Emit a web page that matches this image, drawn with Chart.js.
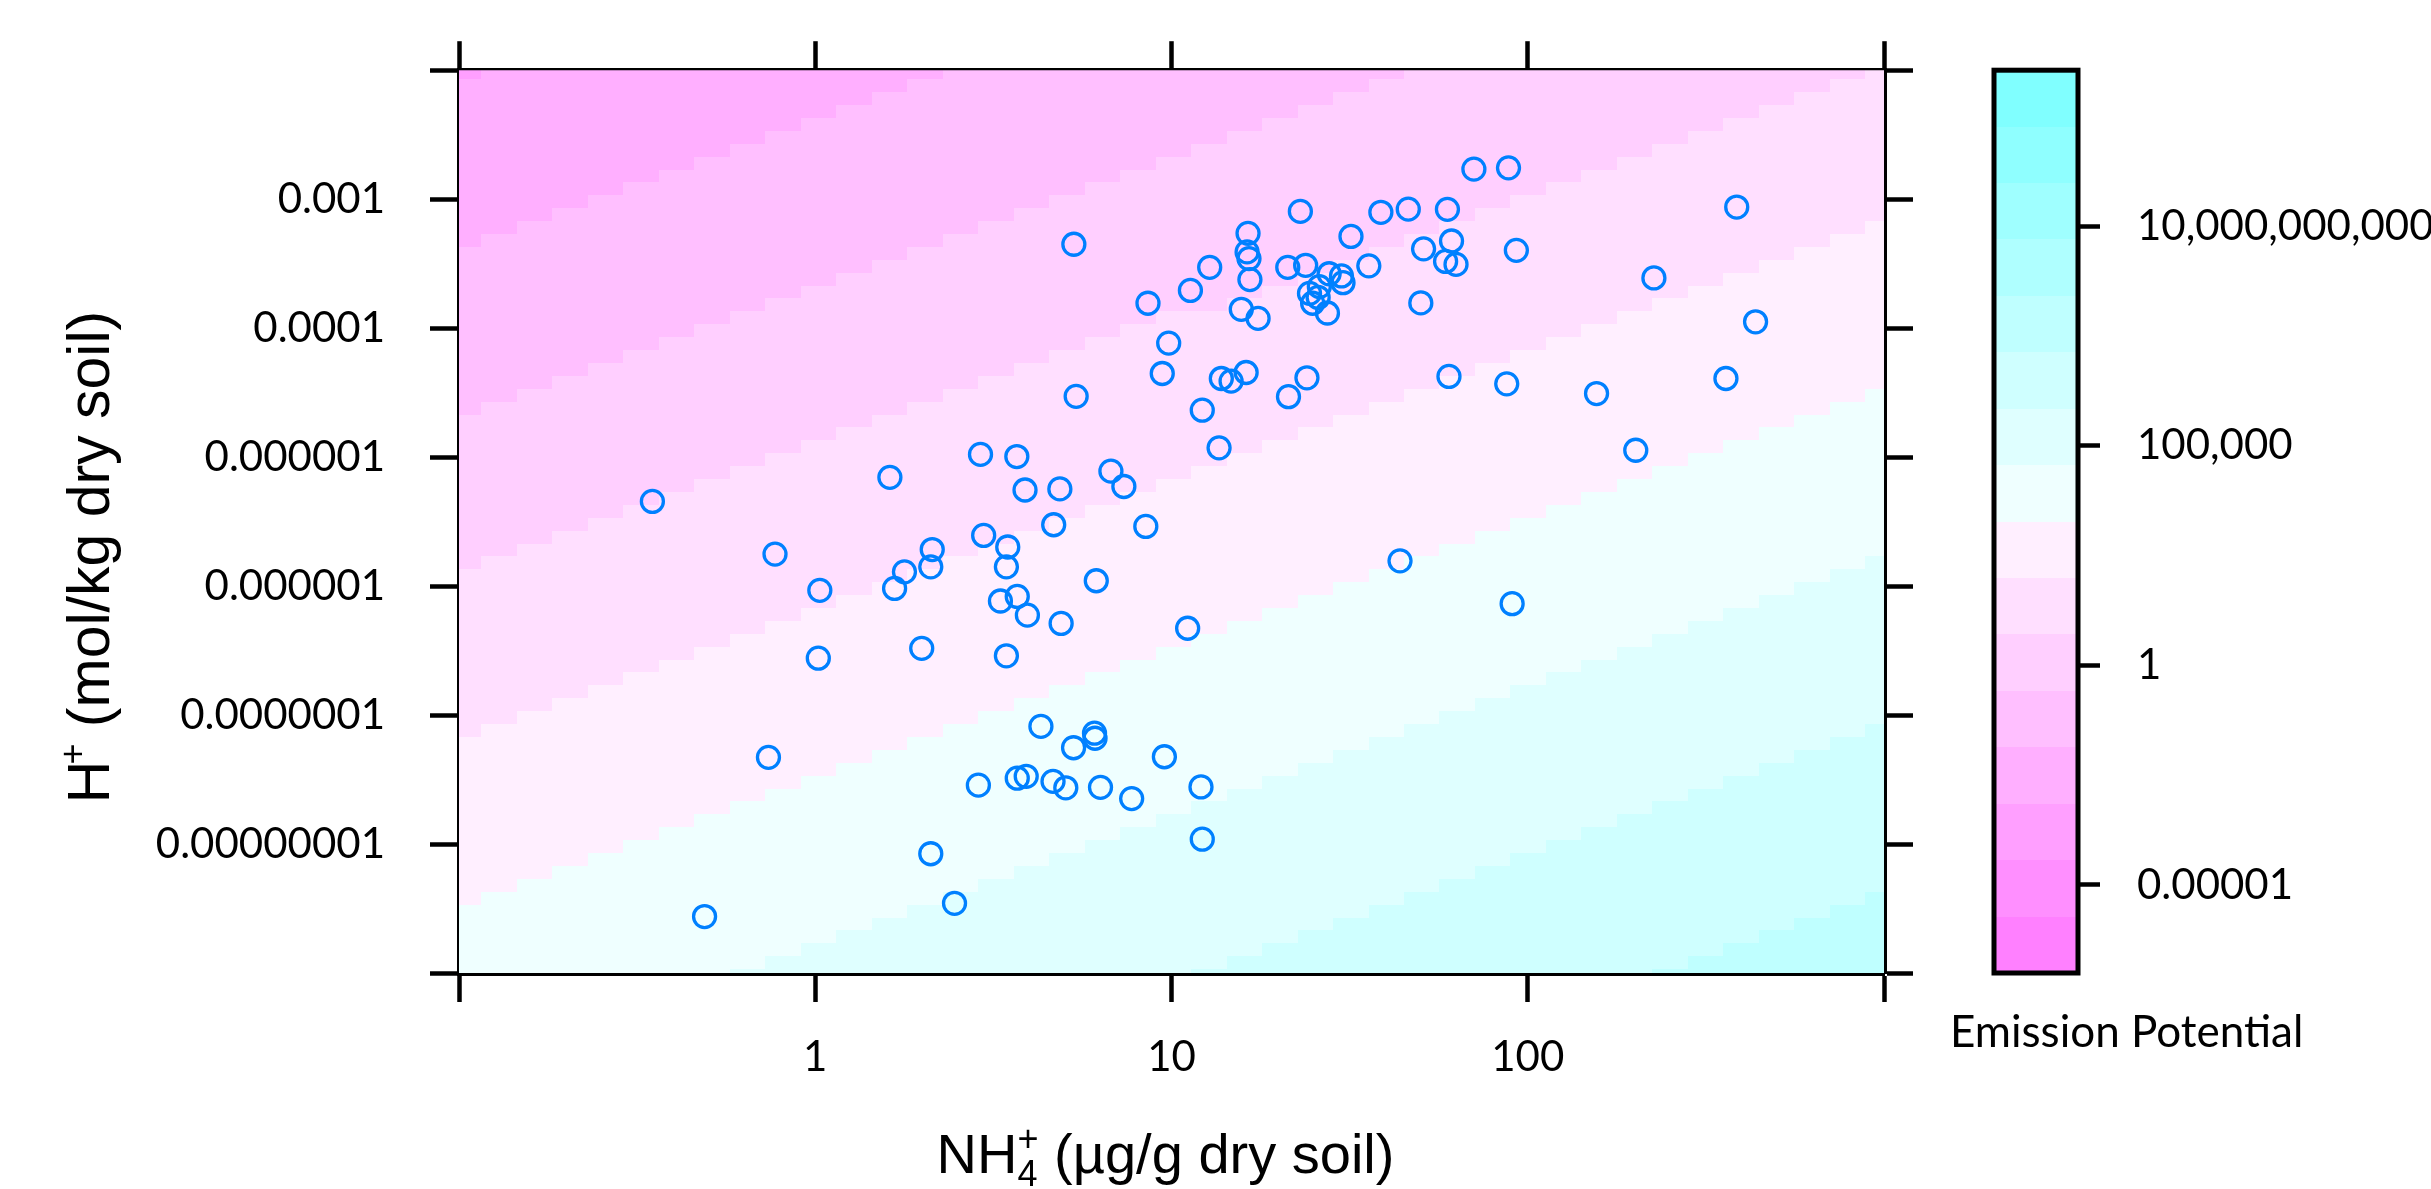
<!DOCTYPE html>
<html>
<head>
<meta charset="utf-8">
<script src="https://cdn.jsdelivr.net/npm/chart.js@4.4.1/dist/chart.umd.min.js"></script>
<style>
  html, body { margin: 0; padding: 0; background: #fff; }
  canvas { display: block; }
</style>
</head>
<body>
<canvas id="epChart" width="2431" height="1189"></canvas>
<script>
// NH4+ (ug/g dry soil) and H+ (mol/kg dry soil) for each sampled soil
const nh4 = [
  70.6, 88.3, 23.0, 38.7, 46.2, 59.5, 386, 16.4, 31.9, 51.0,
  61.1, 92.9, 12.8, 16.3, 16.5, 21.2, 23.8, 27.7, 30.0, 35.8,
  58.8, 62.9, 11.3, 8.59, 16.6, 24.4, 26.0, 25.8, 24.9, 27.4,
  30.3, 226, 15.7, 17.5, 50.1, 436, 9.82, 9.42, 13.8, 14.7,
  16.2, 24.0, 21.3, 60.1, 87.3, 156, 360, 12.2, 13.6, 201,
  5.32, 5.40, 6.76, 7.35, 0.349, 0.771, 1.03, 1.02, 0.739, 0.489,
  1.62, 2.91, 3.68, 3.88, 4.86, 4.67, 8.47, 2.97, 3.47, 2.13,
  2.11, 3.44, 1.78, 1.67, 6.15, 3.31, 3.69, 3.94, 4.90, 11.1,
  1.99, 3.44, 4.30, 6.08, 6.10, 5.31, 9.55, 2.87, 3.69, 3.91,
  4.65, 5.05, 6.32, 7.73, 2.11, 2.46, 43.8, 90.4, 12.1, 12.2
];
const hplus = [
  1.71e-3, 1.75e-3, 8.04e-4, 7.91e-4, 8.37e-4, 8.34e-4, 8.69e-4, 5.43e-4, 5.14e-4, 4.12e-4,
  4.74e-4, 4.01e-4, 2.96e-4, 3.90e-4, 3.46e-4, 2.96e-4, 3.07e-4, 2.64e-4, 2.54e-4, 3.04e-4,
  3.29e-4, 3.12e-4, 1.96e-4, 1.56e-4, 2.38e-4, 1.86e-4, 2.10e-4, 1.73e-4, 1.56e-4, 1.31e-4,
  2.25e-4, 2.45e-4, 1.40e-4, 1.19e-4, 1.57e-4, 1.12e-4, 7.66e-5, 4.45e-5, 4.07e-5, 3.88e-5,
  4.53e-5, 4.12e-5, 2.94e-5, 4.22e-5, 3.70e-5, 3.11e-5, 4.07e-5, 2.31e-5, 1.18e-5, 1.13e-5,
  4.47e-4, 2.96e-5, 7.78e-6, 5.92e-6, 4.53e-6, 1.77e-6, 9.27e-7, 2.76e-7, 4.70e-8, 2.74e-9,
  6.97e-6, 1.05e-5, 1.01e-5, 5.56e-6, 5.67e-6, 2.99e-6, 2.90e-6, 2.47e-6, 2.01e-6, 1.92e-6,
  1.41e-6, 1.41e-6, 1.29e-6, 9.59e-7, 1.10e-6, 7.66e-7, 8.31e-7, 5.95e-7, 5.13e-7, 4.71e-7,
  3.29e-7, 2.88e-7, 8.17e-8, 7.23e-8, 6.61e-8, 5.58e-8, 4.75e-8, 2.86e-8, 3.24e-8, 3.35e-8,
  3.06e-8, 2.73e-8, 2.75e-8, 2.25e-8, 8.41e-9, 3.47e-9, 1.57e-6, 7.30e-7, 2.77e-8, 1.09e-8
];

const xTickValues = [0.1, 1, 10, 100, 1000];
const xTickLabels = ['', '1', '10', '100', ''];
const yTickValues = [1e-9, 1e-8, 1e-7, 1e-6, 1e-5, 1e-4, 1e-3, 1e-2];
const yTickLabels = ['', '0.00000001', '0.0000001', '0.000001', '0.000001', '0.0001', '0.001', ''];

// colour key, in log10(emission potential)
const keyBreaks = [-7.005, -5.72, -4.435, -3.15, -1.865, -0.58, 0.705, 1.99, 3.275,
  4.56, 5.845, 7.13, 8.415, 9.7, 10.985, 12.27, 13.555];
const keyColors = ['#FF80FF', '#FF8FFF', '#FF9FFF', '#FFAFFF', '#FFBFFF', '#FFCFFF', '#FFDFFF', '#FFEFFF',
  '#EFFFFF', '#DFFFFF', '#CFFFFF', '#BFFFFF', '#AFFFFF', '#9FFFFF', '#8FFFFF', '#80FFFF'];
const keyTickValues = [-5, 0, 5, 10];
const keyTickLabels = ['0.00001', '1', '100,000', '10,000,000,000'];

// emission potential = NH4+/H+ (both as mol/kg), i.e. log EP = log NH4 - log H + offset
const epOffset = -4.22;
// the background surface is a grid of log-spaced cells
const cellEdgeX0 = -1.0366, cellStepX = 0.0996, cellCountX = 42;
const cellEdgeY0 = -9.07, cellStepY = 0.1, cellCountY = 72;

const tickFont = { family: 'Lato', size: 42 };
const titleFont = '"Liberation Sans", Arial, sans-serif';

function keyBand(z) {
  for (let k = 0; k < keyColors.length; k++) {
    if (z < keyBreaks[k + 1]) return k;
  }
  return keyColors.length - 1;
}

const surfaceCells = {
  id: 'surfaceCells',
  beforeDatasetsDraw(chart) {
    const { ctx, chartArea: area, scales } = chart;
    const xs = scales.x, ys = scales.y;
    ctx.save();
    ctx.beginPath();
    ctx.rect(area.left, area.top, area.right - area.left, area.bottom - area.top);
    ctx.clip();
    for (let i = 0; i < cellCountX; i++) {
      const e0 = cellEdgeX0 + i * cellStepX, e1 = e0 + cellStepX;
      const px0 = Math.round(xs.getPixelForValue(10 ** e0));
      const px1 = Math.round(xs.getPixelForValue(10 ** e1));
      for (let j = 0; j < cellCountY; j++) {
        const f0 = cellEdgeY0 + j * cellStepY, f1 = f0 + cellStepY;
        const py0 = Math.round(ys.getPixelForValue(10 ** f0));
        const py1 = Math.round(ys.getPixelForValue(10 ** f1));
        const z = (e0 + e1) / 2 - (f0 + f1) / 2 + epOffset;
        ctx.fillStyle = keyColors[keyBand(z)];
        ctx.fillRect(px0, py1, px1 - px0, py0 - py1);
      }
    }
    ctx.restore();

    // colour key bar, next to its own axis
    const key = scales.key;
    const barRight = key.left, barLeft = key.left - 84;
    ctx.save();
    keyColors.forEach((c, k) => {
      const y0 = Math.round(key.getPixelForValue(keyBreaks[k]));
      const y1 = Math.round(key.getPixelForValue(keyBreaks[k + 1]));
      ctx.fillStyle = c;
      ctx.fillRect(barLeft, y1, barRight - barLeft, y0 - y1);
    });
    ctx.lineWidth = 5;
    ctx.strokeStyle = '#000';
    ctx.strokeRect(barLeft, key.top, barRight - barLeft, key.bottom - key.top);
    ctx.restore();
  }
};

// axis titles need sub/superscripts, so they are drawn by hand
const axisTitles = {
  id: 'axisTitles',
  afterDraw(chart) {
    const { ctx, chartArea: area } = chart;
    ctx.save();
    ctx.fillStyle = '#000';
    ctx.textBaseline = 'alphabetic';
    ctx.textAlign = 'left';

    // x title: NH4+ (ug/g dry soil)
    const xs = 56, xsub = 36;
    ctx.font = xs + 'px ' + titleFont;
    const wNH = ctx.measureText('NH').width;
    const wRest = ctx.measureText(' (\u00b5g/g dry soil)').width;
    ctx.font = xsub + 'px ' + titleFont;
    const wScr = Math.max(ctx.measureText('4').width, ctx.measureText('+').width);
    const total = wNH + wScr + wRest;
    let x0 = (area.left + area.right) / 2 - 6 - total / 2;
    const base = 1173;
    ctx.font = xs + 'px ' + titleFont;
    ctx.fillText('NH', x0, base);
    ctx.font = xsub + 'px ' + titleFont;
    ctx.fillText('4', x0 + wNH, base + 13);
    ctx.fillText('+', x0 + wNH, base - 22);
    ctx.font = xs + 'px ' + titleFont;
    ctx.fillText(' (\u00b5g/g dry soil)', x0 + wNH + wScr, base);

    // y title: H+ (mol/kg dry soil)
    const ys = 59, ysup = 36;
    ctx.translate(109, 555);
    ctx.rotate(-Math.PI / 2);
    ctx.font = ys + 'px ' + titleFont;
    const wH = ctx.measureText('H').width;
    const wR = ctx.measureText(' (mol/kg dry soil)').width;
    ctx.font = ysup + 'px ' + titleFont;
    const wP = ctx.measureText('+').width;
    let t0 = -(wH + wP + wR) / 2;
    ctx.font = ys + 'px ' + titleFont;
    ctx.fillText('H', t0, 0);
    ctx.font = ysup + 'px ' + titleFont;
    ctx.fillText('+', t0 + wH - 4, -24);
    ctx.font = ys + 'px ' + titleFont;
    ctx.fillText(' (mol/kg dry soil)', t0 + wH + wP - 4, 0);
    ctx.restore();

    // key title
    ctx.save();
    ctx.fillStyle = '#000';
    ctx.font = '44px Lato';
    ctx.textAlign = 'left';
    ctx.textBaseline = 'alphabetic';
    ctx.fillText('Emission Potential', 1950, 1047);
    ctx.restore();
  }
};

const tickGrid = (len) => ({
  display: true,
  drawOnChartArea: false,
  drawTicks: true,
  tickLength: len,
  tickWidth: 4.5,
  tickColor: '#000',
  color: '#000'
});
const frame = { display: true, color: '#000', width: 5 };

function draw() {
  new Chart(document.getElementById('epChart'), {
    type: 'scatter',
    data: {
      datasets: [{
        data: nh4.map((v, i) => ({ x: v, y: hplus[i] })),
        pointRadius: 11,
        pointBorderWidth: 3.3,
        pointBorderColor: '#0080FF',
        pointBackgroundColor: 'rgba(0,0,0,0)',
        pointHoverRadius: 11
      }]
    },
    options: {
      responsive: false,
      animation: false,
      devicePixelRatio: 1,
      layout: { padding: 0 },
      plugins: { legend: { display: false }, tooltip: { enabled: false } },
      scales: {
        x: {
          type: 'logarithmic', position: 'bottom', min: 0.1, max: 1000, z: 1,
          afterBuildTicks: (s) => { s.ticks = xTickValues.map(v => ({ value: v })); },
          afterFit: (s) => { s.height = 216; },
          ticks: { autoSkip: false, maxRotation: 0, padding: 30, color: '#000', font: tickFont,
            callback: (v, i) => xTickLabels[i] },
          grid: tickGrid(29), border: frame
        },
        x2: {
          type: 'logarithmic', position: 'top', min: 0.1, max: 1000, z: 1,
          afterBuildTicks: (s) => { s.ticks = xTickValues.map(v => ({ value: v })); },
          afterFit: (s) => { s.height = 66; },
          ticks: { autoSkip: false, maxRotation: 0, callback: () => '' },
          grid: tickGrid(29), border: frame
        },
        y: {
          type: 'logarithmic', position: 'left', min: 1e-9, max: 1e-2, z: 1,
          afterBuildTicks: (s) => { s.ticks = yTickValues.map(v => ({ value: v })); },
          afterFit: (s) => { s.width = 459; },
          ticks: { autoSkip: false, padding: 45, color: '#000', font: tickFont,
            callback: (v, i) => yTickLabels[i] },
          grid: tickGrid(29), border: frame
        },
        y2: {
          type: 'logarithmic', position: 'right', min: 1e-9, max: 1e-2, z: 1,
          afterBuildTicks: (s) => { s.ticks = yTickValues.map(v => ({ value: v })); },
          afterFit: (s) => { s.width = 194; },
          ticks: { autoSkip: false, callback: () => '' },
          grid: tickGrid(29), border: frame
        },
        key: {
          type: 'linear', position: 'right', weight: 1, z: 1,
          min: keyBreaks[0], max: keyBreaks[keyBreaks.length - 1],
          afterBuildTicks: (s) => { s.ticks = keyTickValues.map(v => ({ value: v })); },
          afterFit: (s) => { s.width = 353; },
          ticks: { autoSkip: false, padding: 37, color: '#000', font: tickFont,
            callback: (v, i) => keyTickLabels[i] },
          grid: tickGrid(22), border: { display: false }
        }
      }
    },
    plugins: [surfaceCells, axisTitles]
  });
}

Promise.all([
  document.fonts.load('42px Lato'),
  document.fonts.load('56px "Liberation Sans"')
]).then(draw, draw);
</script>
</body>
</html>
